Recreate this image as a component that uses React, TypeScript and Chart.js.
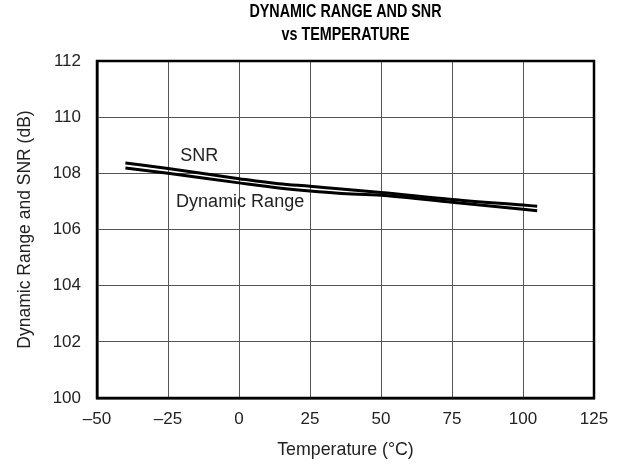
import React, { useEffect, useRef } from "react";
import { Chart, registerables } from "chart.js";

Chart.register(...registerables);

const temperatures = [-40, -25, 0, 14, 25, 35, 50, 75, 100, 105];
const snrValues = [108.37, 108.17, 107.81, 107.63, 107.54, 107.45, 107.32, 107.07, 106.87, 106.83];
const dynamicRangeValues = [108.19, 108.0, 107.66, 107.48, 107.37, 107.29, 107.22, 106.97, 106.72, 106.67];
const xTickValues = [-50, -25, 0, 25, 50, 75, 100, 125];
const yTickValues = [100, 102, 104, 106, 108, 110, 112];
const titleLines = ["DYNAMIC RANGE AND SNR", "vs TEMPERATURE"];
const xAxisTitle = "Temperature (°C)";
const yAxisTitle = "Dynamic Range and SNR (dB)";
const seriesNames = ["SNR", "Dynamic Range"];
const seriesLabelX = [-14, 0.4];
const seriesLabelY = [108.62, 106.99];

const FONT = "'Liberation Sans', Arial, Helvetica, sans-serif";
const TEXT = "#222";

const titleAndFrame = {
  id: "titleAndFrame",
  afterDraw(chart: any) {
    const { ctx, chartArea } = chart;
    ctx.save();
    const cx = (chartArea.left + chartArea.right) / 2;
    ctx.fillStyle = "#000";
    ctx.font = `bold 17.5px ${FONT}`;
    ctx.textAlign = "center";
    ctx.textBaseline = "middle";
    const condense = 0.82;
    titleLines.forEach((line, i) => {
      ctx.save();
      ctx.translate(cx, chartArea.top - 49 + i * 23);
      ctx.scale(condense, 1);
      ctx.fillText(line, 0, 0);
      ctx.restore();
    });
    ctx.restore();
  },
  afterDatasetsDraw(chart: any) {
    const { ctx, chartArea, scales } = chart;
    ctx.save();
    ctx.strokeStyle = "#000";
    ctx.lineWidth = 2.5;
    ctx.strokeRect(chartArea.left, chartArea.top, chartArea.right - chartArea.left, chartArea.bottom - chartArea.top);
    ctx.fillStyle = TEXT;
    ctx.font = `18px ${FONT}`;
    ctx.textAlign = "center";
    ctx.textBaseline = "middle";
    seriesNames.forEach((name, i) => {
      ctx.fillText(name, scales.x.getPixelForValue(seriesLabelX[i]), scales.y.getPixelForValue(seriesLabelY[i]));
    });
    ctx.restore();
  },
};

export default function App() {
  const ref = useRef<HTMLCanvasElement | null>(null);
  useEffect(() => {
    if (!ref.current) return;
    const chart = new Chart(ref.current, {
      type: "line",
      data: {
        datasets: [
          {
            label: seriesNames[0],
            data: temperatures.map((t, i) => ({ x: t, y: snrValues[i] })),
            borderColor: "#000",
            borderWidth: 3,
            pointRadius: 0,
            cubicInterpolationMode: "monotone",
          },
          {
            label: seriesNames[1],
            data: temperatures.map((t, i) => ({ x: t, y: dynamicRangeValues[i] })),
            borderColor: "#000",
            borderWidth: 3,
            pointRadius: 0,
            cubicInterpolationMode: "monotone",
          },
        ],
      },
      options: {
        animation: false,
        responsive: true,
        maintainAspectRatio: false,
        layout: { padding: { left: 0, right: 28, top: 61, bottom: 0 } },
        plugins: {
          legend: { display: false },
          tooltip: { enabled: false },
          title: { display: false },
        },
        scales: {
          x: {
            type: "linear",
            min: -50,
            max: 125,
            afterBuildTicks: (s: any) => {
              s.ticks = xTickValues.map((v) => ({ value: v }));
            },
            afterFit: (s: any) => {
              s.height = 67;
            },
            ticks: {
              color: TEXT,
              font: { family: FONT, size: 17 },
              padding: 11,
              maxRotation: 0,
              callback: (v: any) => String(v).replace("-", "\u2013"),
            },
            grid: { color: "#555", lineWidth: 1, drawTicks: false },
            border: { display: true, color: "#000", width: 2.5 },
            title: {
              display: true,
              text: xAxisTitle,
              color: TEXT,
              font: { family: FONT, size: 17.8, lineHeight: 1.2 },
              padding: { top: 0, bottom: 4.5 },
            },
          },
          y: {
            type: "linear",
            min: 100,
            max: 112,
            afterBuildTicks: (s: any) => {
              s.ticks = yTickValues.map((v) => ({ value: v }));
            },
            afterFit: (s: any) => {
              s.width = 97;
            },
            ticks: {
              color: TEXT,
              font: { family: FONT, size: 17 },
              padding: 16,
            },
            grid: { color: "#555", lineWidth: 1, drawTicks: false },
            border: { display: true, color: "#000", width: 2.5 },
            title: {
              display: true,
              text: yAxisTitle,
              color: TEXT,
              font: { family: FONT, size: 17.5, lineHeight: 1.2 },
              padding: { top: 15, bottom: 0 },
            },
          },
        },
      },
      plugins: [titleAndFrame],
    });
    return () => chart.destroy();
  }, []);
  return (
    <div style={{ position: "fixed", left: 0, top: 0, width: 622, height: 465, background: "#fff" }}>
      <canvas ref={ref} />
    </div>
  );
}
